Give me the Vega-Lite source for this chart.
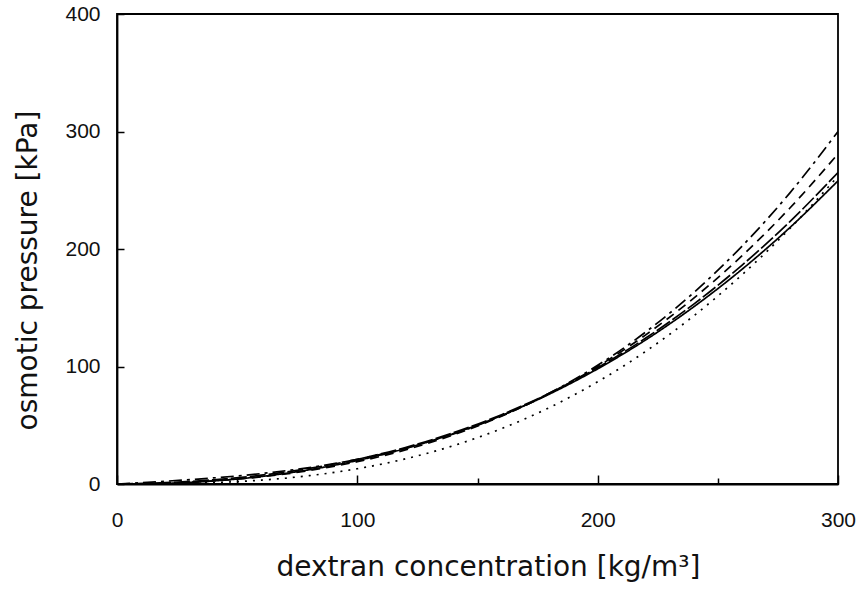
{
  "$schema": "https://vega.github.io/schema/vega-lite/v6.json",
  "width": 721,
  "height": 470,
  "autosize": {"type": "none"},
  "padding": {"left": 117, "top": 14, "right": 22, "bottom": 114},
  "background": "white",
  "config": {
    "view": {"stroke": "black", "strokeWidth": 1.8},
    "font": "Liberation Sans",
    "axis": {"domainColor": "black", "domainWidth": 1.8, "tickColor": "black", "tickWidth": 1.5, "labelColor": "#111", "titleColor": "#111", "grid": false, "labelFont": "Liberation Sans", "titleFont": "DejaVu Sans", "titleFontWeight": "normal", "labelFlush": false, "labelOverlap": false}
  },
  "data": {"values": [
    {"c": 0, "p": 0, "s": "A"}, {"c": 20, "p": 2.36, "s": "A"}, {"c": 40, "p": 5.16, "s": "A"}, {"c": 60, "p": 8.88, "s": "A"}, {"c": 80, "p": 14.0, "s": "A"}, {"c": 100, "p": 21.0, "s": "A"}, {"c": 120, "p": 30.36, "s": "A"}, {"c": 140, "p": 42.56, "s": "A"}, {"c": 160, "p": 58.08, "s": "A"}, {"c": 180, "p": 77.4, "s": "A"}, {"c": 200, "p": 101.0, "s": "A"}, {"c": 220, "p": 129.36, "s": "A"}, {"c": 240, "p": 162.96, "s": "A"}, {"c": 260, "p": 202.28, "s": "A"}, {"c": 280, "p": 247.8, "s": "A"}, {"c": 300, "p": 300.0, "s": "A"},
    {"c": 0, "p": 0, "s": "B"}, {"c": 20, "p": 0.66, "s": "B"}, {"c": 40, "p": 2.59, "s": "B"}, {"c": 60, "p": 6.09, "s": "B"}, {"c": 80, "p": 11.46, "s": "B"}, {"c": 100, "p": 19.0, "s": "B"}, {"c": 120, "p": 29.02, "s": "B"}, {"c": 140, "p": 41.83, "s": "B"}, {"c": 160, "p": 57.72, "s": "B"}, {"c": 180, "p": 77.0, "s": "B"}, {"c": 200, "p": 99.98, "s": "B"}, {"c": 220, "p": 126.95, "s": "B"}, {"c": 240, "p": 158.23, "s": "B"}, {"c": 260, "p": 194.11, "s": "B"}, {"c": 280, "p": 234.91, "s": "B"}, {"c": 300, "p": 280.92, "s": "B"},
    {"c": 0, "p": 0, "s": "C"}, {"c": 20, "p": 1.13, "s": "C"}, {"c": 40, "p": 3.54, "s": "C"}, {"c": 60, "p": 7.5, "s": "C"}, {"c": 80, "p": 13.23, "s": "C"}, {"c": 100, "p": 21.0, "s": "C"}, {"c": 120, "p": 31.05, "s": "C"}, {"c": 140, "p": 43.63, "s": "C"}, {"c": 160, "p": 58.98, "s": "C"}, {"c": 180, "p": 77.37, "s": "C"}, {"c": 200, "p": 99.02, "s": "C"}, {"c": 220, "p": 124.2, "s": "C"}, {"c": 240, "p": 153.14, "s": "C"}, {"c": 260, "p": 186.11, "s": "C"}, {"c": 280, "p": 223.33, "s": "C"}, {"c": 300, "p": 265.08, "s": "C"},
    {"c": 0, "p": 0, "s": "D"}, {"c": 20, "p": 0.51, "s": "D"}, {"c": 40, "p": 2.58, "s": "D"}, {"c": 60, "p": 6.38, "s": "D"}, {"c": 80, "p": 12.13, "s": "D"}, {"c": 100, "p": 20.0, "s": "D"}, {"c": 120, "p": 30.19, "s": "D"}, {"c": 140, "p": 42.9, "s": "D"}, {"c": 160, "p": 58.3, "s": "D"}, {"c": 180, "p": 76.61, "s": "D"}, {"c": 200, "p": 98.0, "s": "D"}, {"c": 220, "p": 122.67, "s": "D"}, {"c": 240, "p": 150.82, "s": "D"}, {"c": 260, "p": 182.62, "s": "D"}, {"c": 280, "p": 218.29, "s": "D"}, {"c": 300, "p": 258.0, "s": "D"},
    {"c": 0, "p": 0, "s": "E"}, {"c": 20, "p": 0.2, "s": "E"}, {"c": 40, "p": 1.13, "s": "E"}, {"c": 60, "p": 3.28, "s": "E"}, {"c": 80, "p": 7.09, "s": "E"}, {"c": 100, "p": 13.0, "s": "E"}, {"c": 120, "p": 21.39, "s": "E"}, {"c": 140, "p": 32.66, "s": "E"}, {"c": 160, "p": 47.13, "s": "E"}, {"c": 180, "p": 65.14, "s": "E"}, {"c": 200, "p": 86.98, "s": "E"}, {"c": 220, "p": 112.9, "s": "E"}, {"c": 240, "p": 143.16, "s": "E"}, {"c": 260, "p": 177.96, "s": "E"}, {"c": 280, "p": 217.5, "s": "E"}, {"c": 300, "p": 261.94, "s": "E"}
  ]},
  "mark": {"type": "line", "interpolate": "monotone", "color": "black", "strokeWidth": 1.7, "clip": true},
  "encoding": {
    "x": {"field": "c", "type": "quantitative", "scale": {"domain": [0, 300], "nice": false},
      "axis": {"values": [0, 50, 100, 150, 200, 250, 300], "labelExpr": "datum.value % 100 === 0 ? datum.label : ''",
        "tickSize": {"condition": {"test": "datum.value % 100 === 0", "value": -9}, "value": -6},
        "labelPadding": 34, "labelFontSize": 21, "title": "dextran concentration [kg/m³]", "titleFontSize": 28, "titlePadding": 20, "titleX": 371}},
    "y": {"field": "p", "type": "quantitative", "scale": {"domain": [0, 400], "nice": false},
      "axis": {"values": [0, 100, 200, 300, 400], "tickSize": -7, "labelPadding": 24, "labelFontSize": 21, "title": "osmotic pressure [kPa]", "titleFontSize": 28, "titlePadding": 22, "titleY": 256}},
    "strokeDash": {"field": "s", "type": "nominal", "legend": null,
      "scale": {"domain": ["A", "B", "C", "D", "E"], "range": [[13, 5, 3, 5], [9, 6], [16, 3], [1, 0], [2, 6]]}}
  }
}
